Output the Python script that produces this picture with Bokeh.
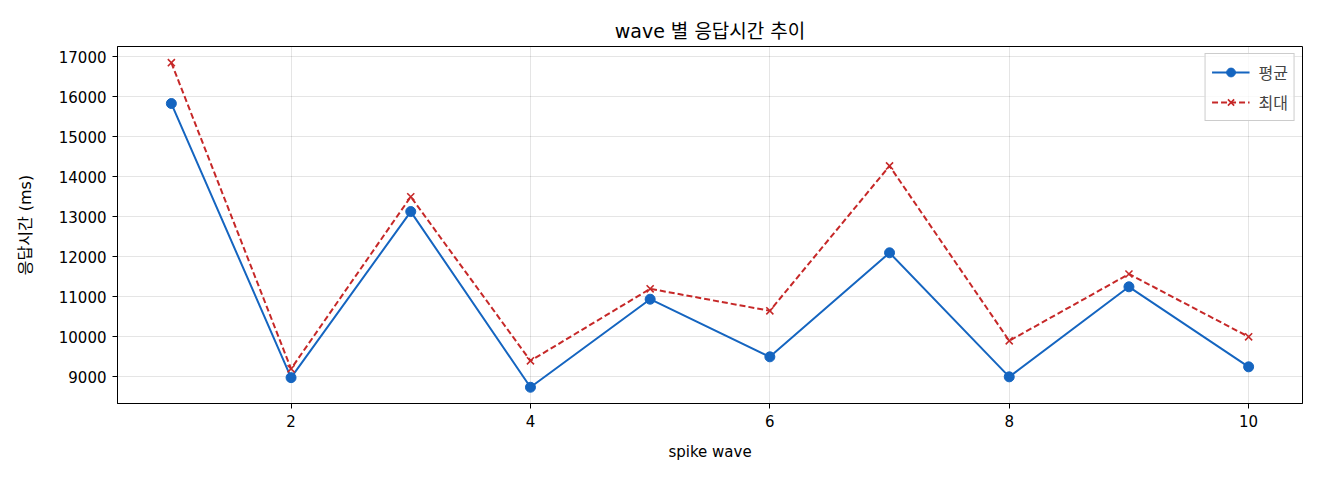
from bokeh.plotting import figure
from bokeh.models import Range1d, FixedTicker
from bokeh.embed import file_html
from bokeh.resources import INLINE

# 데이터
waves = [1, 2, 3, 4, 5, 6, 7, 8, 9, 10]
avg_ms = [15830, 8980, 13130, 8740, 10940, 9500, 12100, 9000, 11250, 9250]
max_ms = [16850, 9200, 13500, 9400, 11200, 10650, 14270, 9900, 11570, 10000]
x_ticks = [2, 4, 6, 8, 10]
y_ticks = [9000, 10000, 11000, 12000, 13000, 14000, 15000, 16000, 17000]

FONT = "'DejaVu Sans', 'Noto Sans CJK KR'"
BLUE = "#1565c0"
RED = "#c62828"

p = figure(
    width=1312, height=472,
    title="wave 별 응답시간 추이",
    x_axis_label="spike wave",
    y_axis_label="응답시간 (ms)",
    x_range=Range1d(0.55, 10.45),
    y_range=Range1d(8334, 17255),
    output_backend="svg",
    toolbar_location=None,
    min_border_left=117, min_border_right=10,
    min_border_top=46, min_border_bottom=69,
)

# 평균
p.line(waves, avg_ms, color=BLUE, line_width=2, legend_label="평균")
p.scatter(waves, avg_ms, color=BLUE, size=10, marker="circle", legend_label="평균")

# 최대
p.line(waves, max_ms, color=RED, line_width=2, line_dash="6 3", legend_label="최대")
p.scatter(waves, max_ms, color=RED, size=10, marker="x", line_width=1.6, legend_label="최대")

# 제목
p.title.align = "center"
p.title.text_font = FONT
p.title.text_font_size = "19px"
p.title.text_font_style = "normal"
p.title.text_color = "#000000"
p.title.offset = 0

# 축
p.xaxis.ticker = FixedTicker(ticks=x_ticks)
p.yaxis.ticker = FixedTicker(ticks=y_ticks)
for ax in (p.xaxis, p.yaxis):
    ax.major_label_text_font = FONT
    ax.major_label_text_font_size = "15px"
    ax.major_label_text_color = "#000000"
    ax.major_label_standoff = 6
    ax.axis_label_text_font = FONT
    ax.axis_label_text_font_size = "15px"
    ax.axis_label_text_font_style = "normal"
    ax.axis_label_text_color = "#000000"
    ax.minor_tick_line_color = None
    ax.major_tick_line_color = "#000000"
    ax.major_tick_out = 5
    ax.major_tick_in = 0
    ax.axis_line_color = "#000000"
p.yaxis.axis_label_text_font_size = "16px"
p.yaxis.axis_label_standoff = 21
p.xaxis.axis_label_standoff = 13

p.outline_line_color = "#000000"
p.outline_line_width = 1
p.outline_line_alpha = 1

# 격자
p.grid.grid_line_color = "#000000"
p.grid.grid_line_alpha = 0.1
p.grid.grid_line_width = 1

# 범례
p.legend.location = "top_right"
p.legend.label_text_font = FONT
p.legend.label_text_font_size = "16px"
p.legend.border_line_color = "#cccccc"
p.legend.border_line_alpha = 1
p.legend.background_fill_alpha = 0.8
p.legend.glyph_width = 38
p.legend.glyph_height = 22
p.legend.label_height = 22
p.legend.label_standoff = 9
p.legend.spacing = 6
p.legend.padding = 6
p.legend.margin = 7

open("out.html", "w").write(file_html(p, INLINE))
